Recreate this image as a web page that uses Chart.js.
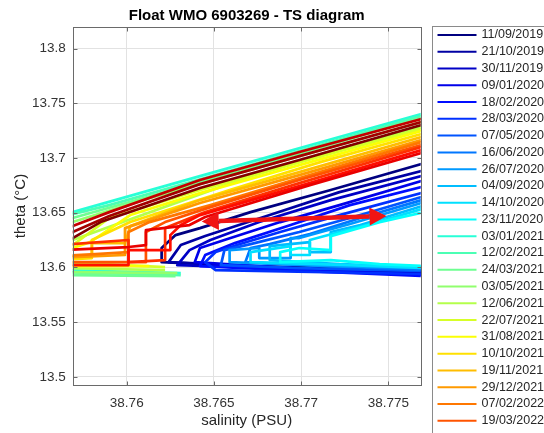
<!DOCTYPE html>
<html>
<head>
<meta charset="utf-8">
<title>Float WMO 6903269 - TS diagram</title>
<script src="https://cdn.jsdelivr.net/npm/chart.js@4/dist/chart.umd.min.js"></script>
<style>
  html, body { margin: 0; padding: 0; background: #fff; overflow: hidden; }
  #wrap { width: 544px; height: 433px; position: relative; }
</style>
</head>
<body>
<div id="wrap"><canvas id="tsChart"></canvas></div>
<script>
// profile dates (one line per profile)
const dates = [
  '11/09/2019', '21/10/2019', '30/11/2019', '09/01/2020', '18/02/2020', '28/03/2020',
  '07/05/2020', '16/06/2020', '26/07/2020', '04/09/2020', '14/10/2020', '23/11/2020',
  '03/01/2021', '12/02/2021', '24/03/2021', '03/05/2021', '12/06/2021', '22/07/2021',
  '31/08/2021', '10/10/2021', '19/11/2021', '29/12/2021', '07/02/2022', '19/03/2022',
  '28/04/2022', '07/06/2022', '17/07/2022', '26/08/2022', '05/10/2022', '14/11/2022'
];

// salinity (PSU) along each profile
const salinity = [
  [38.7771, 38.7717, 38.7671, 38.7642, 38.7628, 38.7620, 38.7620, 38.7671, 38.7771],
  [38.7771, 38.7722, 38.7682, 38.7645, 38.7631, 38.7624, 38.7699, 38.7771],
  [38.7771, 38.7717, 38.7676, 38.7648, 38.7636, 38.7629, 38.7699, 38.7771],
  [38.7771, 38.7722, 38.7688, 38.7656, 38.7642, 38.7639, 38.7711, 38.7771],
  [38.7771, 38.7728, 38.7694, 38.7662, 38.7645, 38.7642, 38.7717, 38.7771],
  [38.7771, 38.7722, 38.7688, 38.7665, 38.7651, 38.7645, 38.7651, 38.7771],
  [38.7771, 38.7728, 38.7699, 38.7671, 38.7656, 38.7654, 38.7699, 38.7771],
  [38.7771, 38.7734, 38.7705, 38.7682, 38.7671, 38.7668, 38.7717, 38.7771],
  [38.7771, 38.7728, 38.7699, 38.7694, 38.7694, 38.7676, 38.7676, 38.7659, 38.7659, 38.7717, 38.7771],
  [38.7771, 38.7734, 38.7717, 38.7717, 38.7705, 38.7705, 38.7682, 38.7682, 38.7722, 38.7771],
  [38.7771, 38.7740, 38.7722, 38.7705, 38.7705, 38.7694, 38.7694, 38.7671, 38.7671, 38.7728, 38.7771],
  [38.7771, 38.7745, 38.7717, 38.7717, 38.7699, 38.7688, 38.7688, 38.7717, 38.7745, 38.7771],
  [38.7771, 38.7642, 38.7569, 38.7562, 38.7562, 38.7631],
  [38.7771, 38.7671, 38.7590, 38.7569, 38.7559, 38.7559, 38.7613, 38.7631],
  [38.7771, 38.7671, 38.7569, 38.7562, 38.7562, 38.7628],
  [38.7771, 38.7613, 38.7569, 38.7562, 38.7562, 38.7629],
  [38.7771, 38.7671, 38.7569, 38.7562, 38.7562, 38.7622],
  [38.7771, 38.7699, 38.7642, 38.7590, 38.7569, 38.7562, 38.7562, 38.7622],
  [38.7771, 38.7699, 38.7642, 38.7602, 38.7579, 38.7569, 38.7562, 38.7562, 38.7613],
  [38.7771, 38.7711, 38.7659, 38.7602, 38.7580, 38.7580, 38.7569, 38.7562],
  [38.7771, 38.7699, 38.7642, 38.7602, 38.7599, 38.7580, 38.7580, 38.7562],
  [38.7771, 38.7699, 38.7642, 38.7599, 38.7599, 38.7569, 38.7562],
  [38.7771, 38.7705, 38.7648, 38.7613, 38.7601, 38.7601, 38.7582, 38.7562],
  [38.7771, 38.7699, 38.7648, 38.7622, 38.7611, 38.7611, 38.7562],
  [38.7771, 38.7699, 38.7645, 38.7622, 38.7622, 38.7601, 38.7601, 38.7562],
  [38.7771, 38.7699, 38.7642, 38.7631, 38.7625, 38.7625, 38.7601, 38.7601, 38.7562],
  [38.7771, 38.7705, 38.7645, 38.7636, 38.7611, 38.7611, 38.7601, 38.7562],
  [38.7771, 38.7699, 38.7642, 38.7590, 38.7569, 38.7562],
  [38.7771, 38.7699, 38.7642, 38.7590, 38.7569, 38.7562],
  [38.7771, 38.7699, 38.7642, 38.7585, 38.7569, 38.7562]
];

// potential temperature (deg C) along each profile
const theta = [
  [13.6953, 13.6707, 13.6505, 13.6359, 13.6295, 13.6177, 13.6048, 13.6012, 13.5975],
  [13.6889, 13.6688, 13.6478, 13.6286, 13.6204, 13.6048, 13.5994, 13.5957],
  [13.6843, 13.6615, 13.6414, 13.6250, 13.6158, 13.6021, 13.5985, 13.5948],
  [13.6798, 13.6569, 13.6414, 13.6250, 13.6177, 13.6048, 13.5975, 13.5930],
  [13.6743, 13.6569, 13.6387, 13.6222, 13.6113, 13.6012, 13.5957, 13.5920],
  [13.6688, 13.6478, 13.6323, 13.6213, 13.6140, 13.6048, 13.5975, 13.5939],
  [13.6652, 13.6451, 13.6323, 13.6213, 13.6158, 13.6021, 13.5994, 13.5966],
  [13.6624, 13.6451, 13.6304, 13.6213, 13.6177, 13.6048, 13.6012, 13.5975],
  [13.6597, 13.6396, 13.6268, 13.6268, 13.6085, 13.6085, 13.6177, 13.6158, 13.6048, 13.6012, 13.5994],
  [13.6569, 13.6387, 13.6323, 13.6140, 13.6140, 13.6231, 13.6195, 13.6067, 13.6030, 13.6003],
  [13.6542, 13.6396, 13.6323, 13.6250, 13.6113, 13.6113, 13.6195, 13.6140, 13.6048, 13.6021, 13.5994],
  [13.6505, 13.6414, 13.6286, 13.6158, 13.6177, 13.6140, 13.6048, 13.6067, 13.6030, 13.6012],
  [13.7410, 13.6834, 13.6505, 13.6469, 13.5975, 13.5948],
  [13.7392, 13.6935, 13.6569, 13.6487, 13.6451, 13.5957, 13.5939, 13.5930],
  [13.7374, 13.6908, 13.6451, 13.6414, 13.5930, 13.5920],
  [13.7337, 13.6633, 13.6414, 13.6378, 13.5957, 13.5948],
  [13.7292, 13.6834, 13.6250, 13.6204, 13.5994, 13.5975],
  [13.7273, 13.6962, 13.6707, 13.6451, 13.6204, 13.6158, 13.6048, 13.6003],
  [13.7255, 13.6935, 13.6679, 13.6478, 13.6231, 13.6177, 13.6158, 13.6012, 13.6012],
  [13.7228, 13.6962, 13.6707, 13.6414, 13.6250, 13.6085, 13.6076, 13.6076],
  [13.7200, 13.6871, 13.6615, 13.6378, 13.6222, 13.6222, 13.6103, 13.6103],
  [13.7173, 13.6843, 13.6588, 13.6359, 13.6113, 13.6094, 13.6094],
  [13.7154, 13.6843, 13.6569, 13.6414, 13.6323, 13.6140, 13.6122, 13.6103],
  [13.7127, 13.6798, 13.6551, 13.6414, 13.6323, 13.6048, 13.6048],
  [13.7109, 13.6770, 13.6505, 13.6359, 13.6067, 13.6048, 13.6250, 13.6204],
  [13.7081, 13.6743, 13.6478, 13.6387, 13.6295, 13.6158, 13.6158, 13.6021, 13.6021],
  [13.7054, 13.6752, 13.6460, 13.6387, 13.6341, 13.6204, 13.6186, 13.6158],
  [13.7365, 13.7054, 13.6798, 13.6505, 13.6378, 13.6341],
  [13.7337, 13.7017, 13.6761, 13.6469, 13.6323, 13.6286],
  [13.7310, 13.6981, 13.6725, 13.6414, 13.6268, 13.6222]
];

const xTicks = [38.76, 38.765, 38.77, 38.775];
const yTicks = [13.5, 13.55, 13.6, 13.65, 13.7, 13.75, 13.8];

// red double arrow (salinity, theta of both tips)
const arrowSal = [38.7643, 38.7749];
const arrowTheta = [13.6419, 13.6469];

const FONT = '"Liberation Sans", Arial, Helvetica, sans-serif';

function jet(i, n) {
  const v = n > 1 ? i / (n - 1) : 0;
  const c = k => Math.round(255 * Math.max(0, Math.min(1, 1.5 - Math.abs(4 * v - k))));
  return 'rgb(' + c(3) + ',' + c(2) + ',' + c(1) + ')';
}

const datasets = dates.map((d, i) => ({
  label: d,
  data: salinity[i].map((s, k) => ({ x: s, y: theta[i][k] })),
  showLine: true,
  borderColor: jet(i, dates.length),
  backgroundColor: jet(i, dates.length),
  borderWidth: 2.7,
  borderJoinStyle: 'round',
  pointRadius: 0,
  tension: 0,
  order: dates.length - i   // later profiles on top, like matlab
}));

// arrow + axes box with inward ticks
const axesBox = {
  id: 'axesBox',
  afterDatasetsDraw(chart) {
    const { ctx, chartArea: a, scales: { x, y } } = chart;

    const x1 = x.getPixelForValue(arrowSal[0]), y1 = y.getPixelForValue(arrowTheta[0]);
    const x2 = x.getPixelForValue(arrowSal[1]), y2 = y.getPixelForValue(arrowTheta[1]);
    const ang = Math.atan2(y2 - y1, x2 - x1);
    const hl = 17, hw = 9;
    ctx.save();
    ctx.strokeStyle = ctx.fillStyle = 'rgb(240,20,20)';
    ctx.lineWidth = 4.5;
    ctx.beginPath();
    ctx.moveTo(x1 + hl * Math.cos(ang), y1 + hl * Math.sin(ang));
    ctx.lineTo(x2 - hl * Math.cos(ang), y2 - hl * Math.sin(ang));
    ctx.stroke();
    [[x2, y2, ang], [x1, y1, ang + Math.PI]].forEach(([px, py, t]) => {
      const bx = px - hl * Math.cos(t), by = py - hl * Math.sin(t);
      ctx.beginPath();
      ctx.moveTo(px, py);
      ctx.lineTo(bx + hw * Math.sin(t), by - hw * Math.cos(t));
      ctx.lineTo(bx - hw * Math.sin(t), by + hw * Math.cos(t));
      ctx.closePath();
      ctx.fill();
    });
    ctx.restore();

    ctx.save();
    ctx.strokeStyle = '#6a6a6a';
    ctx.lineWidth = 1;
    const L = Math.round(a.left) + 0.5, R = Math.round(a.right) + 0.5;
    const T = Math.round(a.top) + 0.5, B = Math.round(a.bottom) + 0.5;
    ctx.strokeRect(L, T, R - L, B - T);
    ctx.beginPath();
    xTicks.forEach(v => {
      const px = Math.round(x.getPixelForValue(v)) + 0.5;
      ctx.moveTo(px, B); ctx.lineTo(px, B - 4);
      ctx.moveTo(px, T); ctx.lineTo(px, T + 4);
    });
    yTicks.forEach(v => {
      const py = Math.round(y.getPixelForValue(v)) + 0.5;
      ctx.moveTo(L, py); ctx.lineTo(L + 4, py);
      ctx.moveTo(R, py); ctx.lineTo(R - 4, py);
    });
    ctx.stroke();
    ctx.restore();
  }
};

// boxed legend to the right of the axes (runs off the window like the original)
const sideLegend = {
  id: 'sideLegend',
  afterDraw(chart) {
    const { ctx, chartArea: a } = chart;
    const left = Math.round(a.right) + 11.5;
    const top = Math.round(a.top) - 0.5;
    ctx.save();
    ctx.fillStyle = '#fff';
    ctx.fillRect(left, top, 200, 500);
    ctx.strokeStyle = '#8a8a8a';
    ctx.lineWidth = 1;
    ctx.strokeRect(left, top, 200, 500);
    ctx.font = '12.5px ' + FONT;
    ctx.textBaseline = 'middle';
    chart.data.datasets.forEach((ds, i) => {
      const yy = top + 8.5 + i * 16.77;
      if (yy + 6 > chart.height) return;
      ctx.strokeStyle = ds.borderColor;
      ctx.lineWidth = 2;
      ctx.beginPath();
      ctx.moveTo(left + 5, yy);
      ctx.lineTo(left + 44, yy);
      ctx.stroke();
      ctx.fillStyle = '#262626';
      ctx.fillText(ds.label, left + 49, yy);
    });
    ctx.restore();
  }
};

const config = {
  type: 'scatter',
  data: { datasets: datasets },
  options: {
    responsive: true,
    maintainAspectRatio: false,
    animation: false,
    events: [],
    layout: { padding: { right: 123.3 } },
    plugins: {
      legend: { display: false },
      tooltip: { enabled: false },
      title: {
        display: true,
        text: 'Float WMO 6903269 - TS diagram',
        fullSize: false,
        color: '#000',
        font: { family: FONT, size: 15, weight: 'bold' },
        padding: { top: 7, bottom: 2 }
      }
    },
    scales: {
      x: {
        type: 'linear',
        min: 38.7569,
        max: 38.77686,
        afterFit: s => { s.height = 48; },
        afterBuildTicks: s => { s.ticks = xTicks.map(v => ({ value: v })); },
        grid: { color: '#e2e2e2', drawTicks: false },
        border: { display: false },
        ticks: {
          autoSkip: false, maxRotation: 0, padding: 10, color: '#333',
          font: { family: FONT, size: 13.5 },
          callback: v => String(+v.toFixed(3))
        },
        title: {
          display: true, text: 'salinity (PSU)', color: '#262626',
          font: { family: FONT, size: 15 }, padding: { top: 0, bottom: 3 }
        }
      },
      y: {
        type: 'linear',
        min: 13.4925,
        max: 13.8197,
        afterFit: s => { s.width = 72.7; },
        afterBuildTicks: s => { s.ticks = yTicks.map(v => ({ value: v })); },
        grid: { color: '#e2e2e2', drawTicks: false },
        border: { display: false },
        ticks: {
          autoSkip: false, padding: 7, color: '#333',
          font: { family: FONT, size: 13.5 },
          callback: v => String(+v.toFixed(2))
        },
        title: {
          display: true, text: 'theta (°C)', color: '#262626',
          font: { family: FONT, size: 15 }, padding: { top: 12, bottom: 0 }
        }
      }
    }
  },
  plugins: [axesBox, sideLegend]
};

new Chart(document.getElementById('tsChart'), config);
</script>
</body>
</html>
